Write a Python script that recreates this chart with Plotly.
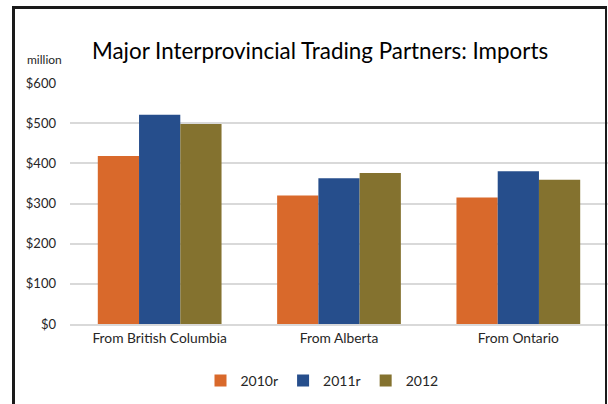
import plotly.graph_objects as go

categories = ["From British Columbia", "From Alberta", "From Ontario"]
series_names = ["2010r", "2011r", "2012"]
values_2010r = [418, 320, 315]
values_2011r = [521, 363, 380]
values_2012 = [498, 376, 359]
tick_vals = [0, 100, 200, 300, 400, 500, 600]
tick_text = ["$0", "$100", "$200", "$300", "$400", "$500", "$600"]

colors = ["#D9692B", "#264E8C", "#84722F"]
series_values = [values_2010r, values_2011r, values_2012]

W, H = 608, 404
ML, MR, MT, MB = 70, 0, 83, 80
PW, PH = W - ML - MR, H - MT - MB

def px(x):
    return (x - ML) / PW

def py(y):
    return (H - MB - y) / PH

fig = go.Figure()
for name, vals, col in zip(series_names, series_values, colors):
    fig.add_trace(go.Bar(x=categories, y=vals, name=name,
                         marker=dict(color=col, line=dict(width=0))))

fig.update_layout(
    width=W, height=H,
    margin=dict(l=ML, r=MR, t=MT, b=MB),
    paper_bgcolor="white", plot_bgcolor="white",
    font=dict(family="Lato", color="#262626"),
    barmode="group", bargap=0.31, bargroupgap=0,
    showlegend=True,
    legend=dict(orientation="h", x=px(322), xanchor="center", y=py(381), yanchor="middle",
                yref="paper", font=dict(size=14, color="#262626"),
                itemwidth=30, traceorder="normal", tracegroupgap=0),
    xaxis=dict(showgrid=False, showline=True, linecolor="#D9D9D9", linewidth=2,
               ticks="", tickfont=dict(size=13.8, color="#262626")),
    yaxis=dict(range=[0, 600], tickvals=tick_vals, ticktext=tick_text,
               showgrid=True, gridcolor="#D9D9D9", gridwidth=2, zeroline=False,
               showline=False, ticks="", ticklabelstandoff=13,
               tickfont=dict(size=13, color="#262626")),
    annotations=[
        dict(text="Major Interprovincial Trading Partners: Imports", xref="paper", yref="paper",
             x=px(320), y=py(50), xanchor="center", yanchor="middle", showarrow=False,
             font=dict(size=22.4, color="#000000", family="Lato")),
        dict(text="million", xref="paper", yref="paper",
             x=px(64), y=py(60), xanchor="right", yanchor="middle", showarrow=False,
             font=dict(size=12, color="#262626", family="Lato")),
    ],
    shapes=[
        dict(type="line", xref="paper", yref="paper", x0=px(13.5), x1=px(13.5), y0=py(7.5), y1=py(420),
             line=dict(color="#1a1a1a", width=3)),
        dict(type="line", xref="paper", yref="paper", x0=px(12), x1=px(607), y0=py(7.5), y1=py(7.5),
             line=dict(color="#1a1a1a", width=3)),
        dict(type="line", xref="paper", yref="paper", x0=px(606), x1=px(606), y0=py(6), y1=py(420),
             line=dict(color="#1a1a1a", width=2)),
    ],
)

fig.write_html("out.html", config={"displayModeBar": False},
               post_script="document.body.style.margin='0px';document.body.style.overflow='hidden';")
